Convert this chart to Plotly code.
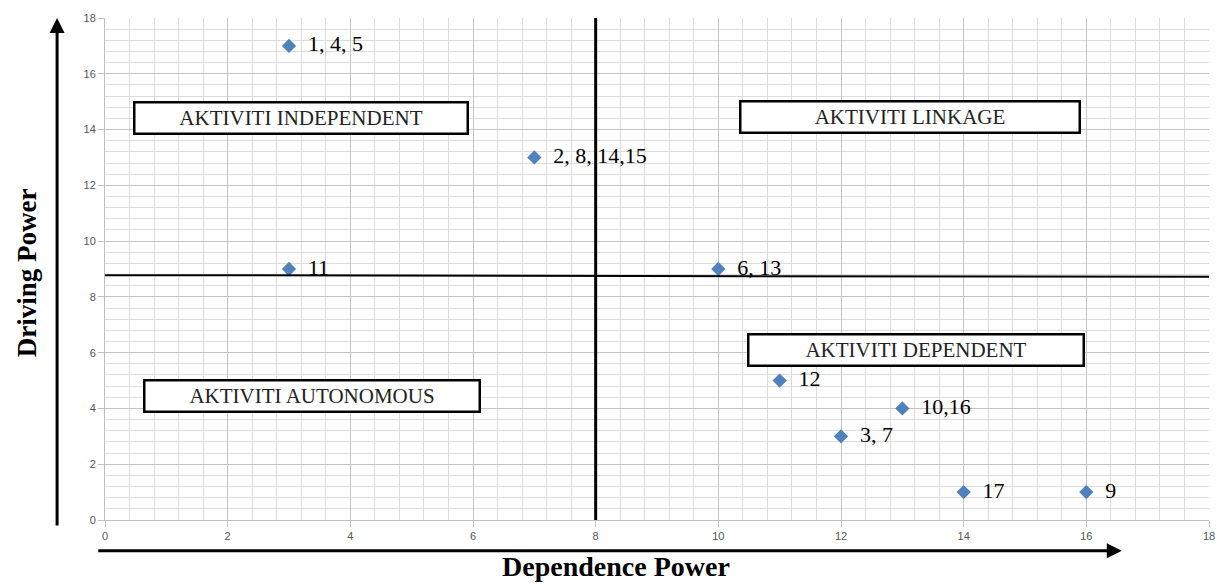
import plotly.graph_objects as go

# Data
dependence = [3, 7, 3, 10, 11, 13, 12, 14, 16]
driving = [17, 13, 9, 9, 5, 4, 3, 1, 1]
labels = ["1, 4, 5", "2, 8, 14,15", "11", "6, 13", "12", "10,16", "3, 7", "17", "9"]

quadrant_names = ["AKTIVITI INDEPENDENT", "AKTIVITI LINKAGE", "AKTIVITI DEPENDENT", "AKTIVITI AUTONOMOUS"]
quadrant_x = [3.19, 13.13, 13.23, 3.37]
quadrant_y = [14.43, 14.45, 6.10, 4.45]

divider_x = 8
divider_y_left = 8.78
divider_y_right = 8.72

x_ticks = list(range(0, 19, 2))
y_ticks = list(range(0, 19, 2))

fig = go.Figure()

fig.add_trace(go.Scatter(
    x=dependence, y=driving, mode="markers+text",
    text=["  " + t for t in labels], textposition="middle right",
    marker=dict(symbol="diamond", size=11, color="#4F81BD"),
    textfont=dict(family="Liberation Serif", size=22, color="black"),
    showlegend=False, cliponaxis=False,
))

# Quadrant dividers
fig.add_shape(type="line", x0=divider_x, x1=divider_x, y0=0, y1=18,
              line=dict(color="black", width=3))
fig.add_shape(type="line", x0=0, x1=18, y0=divider_y_left, y1=divider_y_right,
              line=dict(color="black", width=2))

# Quadrant boxes
box_w = [337, 343, 339, 339]
for name, bx, by, w in zip(quadrant_names, quadrant_x, quadrant_y, box_w):
    fig.add_annotation(x=bx, y=by, text=name, showarrow=False,
                       font=dict(family="Liberation Serif", size=21, color="#222"),
                       bgcolor="white", bordercolor="black", borderwidth=2.5,
                       width=w - 8, height=27, align="center", valign="middle")

# Axis arrows
fig.add_annotation(x=-0.0434, y=1.0, xref="paper", yref="paper", ax=0, ay=509,
                   axref="pixel", ayref="pixel", text="", showarrow=True,
                   arrowhead=2, arrowsize=1, arrowwidth=3, arrowcolor="black")
fig.add_annotation(x=0.921, y=-0.0613, xref="paper", yref="paper", ax=-1025, ay=0,
                   text="", showarrow=True,
                   arrowhead=2, arrowsize=1, arrowwidth=3, arrowcolor="black")

# Axis titles
fig.add_annotation(x=0.463, y=-0.093, xref="paper", yref="paper",
                   xanchor="center", yanchor="middle",
                   text="<b>Dependence Power</b>", showarrow=False,
                   font=dict(family="Liberation Serif", size=28, color="black"))
fig.add_annotation(x=-0.0705, y=0.492, xref="paper", yref="paper", textangle=-90,
                   xanchor="center", yanchor="middle",
                   text="<b>Driving Power</b>", showarrow=False,
                   font=dict(family="Liberation Serif", size=27, color="black"))

fig.update_xaxes(range=[0, 18], tickvals=x_ticks, showgrid=True, gridcolor="#c4c4c4", gridwidth=1,
                 minor=dict(dtick=0.4, tick0=0, showgrid=True, gridcolor="#dcdcdc", gridwidth=1),
                 showline=True, linecolor="#bfbfbf", linewidth=1, mirror=False,
                 ticks="outside", ticklen=6, tickcolor="#bfbfbf", zeroline=False,
                 tickfont=dict(family="Liberation Sans", size=11, color="#555"))
fig.update_yaxes(range=[0, 18], tickvals=y_ticks, showgrid=True, gridcolor="#c4c4c4", gridwidth=1,
                 minor=dict(dtick=0.4, tick0=0, showgrid=True, gridcolor="#dcdcdc", gridwidth=1),
                 showline=True, linecolor="#bfbfbf", linewidth=1,
                 ticks="outside", ticklen=6, tickcolor="#bfbfbf", zeroline=False,
                 tickfont=dict(family="Liberation Sans", size=11, color="#555"))

fig.update_layout(width=1227, height=584, margin=dict(l=105, r=15, t=14, b=64),
                  plot_bgcolor="white", paper_bgcolor="white", showlegend=False)

fig.write_html("out.html", config={"displayModeBar": False},
               post_script="document.body.style.margin='0';document.body.style.overflow='hidden';")
